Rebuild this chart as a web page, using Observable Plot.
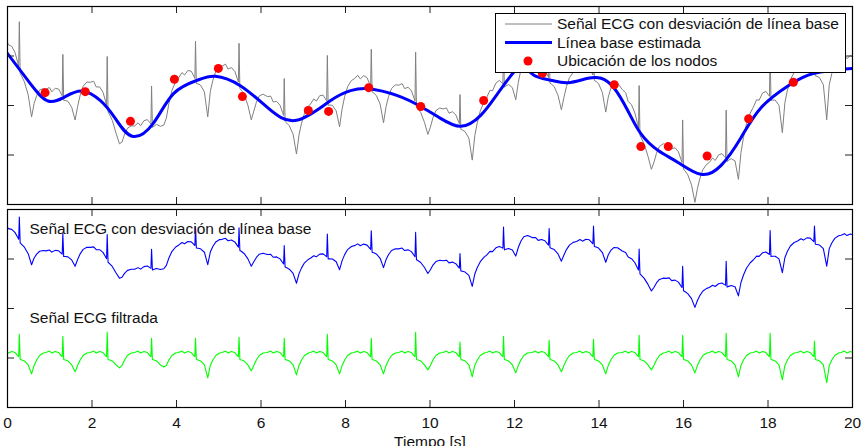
<!DOCTYPE html>
<html>
<head>
<meta charset="utf-8">
<script src="https://cdn.jsdelivr.net/npm/d3@7"></script>
<script src="https://cdn.jsdelivr.net/npm/@observablehq/plot@0.6"></script>
<style>
  body { margin: 0; background: #fff; }
  #chart { position: relative; width: 862px; height: 446px; overflow: hidden;
           font-family: "Liberation Sans", Arial, Helvetica, sans-serif; background: #fff; }
  #chart > svg.panel { position: absolute; left: 0; }
  #chart > svg#legend { position: absolute; left: 495px; top: 13px; }
</style>
</head>
<body>
<div id="chart"></div>
<script>
// ---- Heartbeats: R-peak instants (s), R amplitude and post-R trough amplitude
const rTimes  = [0.28, 1.31, 2.36, 3.41, 4.45, 5.48, 6.55, 7.57, 8.61, 9.66, 10.71, 11.74, 12.82, 13.87, 14.95, 15.98, 17.01, 18.05, 19.10, 20.13];
const rPeaks  = [0.96, 0.88, 1.04, 0.80, 0.80, 0.84, 0.80, 0.96, 0.80, 1.04, 0.64, 0.88, 0.72, 0.76, 0.92, 0.92, 1.00, 1.00, 0.68, 0.90];
const troughs = [-0.64, -0.56, -0.40, -0.36, -0.80, -0.52, -0.68, -0.64, -0.64, -0.48, -0.76, -0.60, -0.56, -0.64, -0.48, -0.60, -0.76, -0.88, -1.00, -0.60];

// Beat waveform: [seconds relative to R, amplitude]; null marks the per-beat trough
const afterR  = [[0.02, -0.06], [0.06, -0.08], [0.12, -0.12], [0.21, -0.28], [0.29, null], [0.35, -0.30], [0.41, -0.08], [0.48, 0.10], [0.57, 0.20]];
const beforeR = [[-0.40, 0.22], [-0.32, 0.28], [-0.26, 0.20], [-0.18, 0.26], [-0.10, 0.22], [-0.04, 0.10], [-0.015, 0.05]];

// ---- Estimated baseline (spline knots)
const baseT = [0, 0.54, 0.96, 1.37, 1.77, 2.20, 2.55, 2.95, 3.45, 3.93, 4.49, 4.92, 5.51, 6.15, 6.84, 7.65, 8.12, 8.55, 9.23, 9.78, 10.25, 10.73, 11.20, 11.60, 11.98, 12.22, 12.46, 12.86, 13.26, 13.74, 14.05, 14.35, 14.68, 14.99, 15.40, 15.87, 16.41, 16.89, 17.36, 17.84, 18.48, 19.09, 20.0];
const baseV = [1.05, 0.44, 0.09, 0.18, 0.29, 0.10, -0.26, -0.62, -0.36, 0.24, 0.51, 0.59, 0.40, -0.04, -0.30, 0.10, 0.30, 0.34, 0.20, -0.02, -0.26, -0.42, -0.20, 0.24, 0.67, 0.80, 0.61, 0.51, 0.46, 0.55, 0.55, 0.36, -0.10, -0.57, -0.91, -1.15, -1.39, -1.21, -0.65, -0.04, 0.40, 0.65, 0.75];

// ---- Node locations used for the baseline fit
const nodeT = [0.89, 1.84, 2.91, 3.95, 4.99, 5.56, 7.12, 7.60, 8.55, 9.78, 11.27, 12.66, 14.36, 14.99, 15.64, 16.56, 17.54, 18.60];
const nodeV = [0.26, 0.28, -0.32, 0.53, 0.75, 0.18, -0.10, -0.12, 0.36, -0.02, 0.10, 0.65, 0.42, -0.83, -0.83, -1.02, -0.27, 0.47];

// ---- Axes
const xTicks = [0, 2, 4, 6, 8, 10, 12, 14, 16, 18, 20];
const yTicksTop = [-1, 0, 1];
const yTicksBottom = [-2, 0, 2];
const ORIG_OFFSET = 2;   // vertical offset of the raw trace in the lower panel
const FILT_OFFSET = -2;  // vertical offset of the filtered trace in the lower panel

// Natural cubic spline through (xs, ys), evaluated at t
function naturalSpline(xs, ys) {
  const n = xs.length, h = [], alpha = [], l = [1], mu = [0], z = [0];
  const b = [], c = new Array(n).fill(0), d = [];
  for (let i = 0; i < n - 1; i++) h[i] = xs[i + 1] - xs[i];
  for (let i = 1; i < n - 1; i++) alpha[i] = 3 / h[i] * (ys[i + 1] - ys[i]) - 3 / h[i - 1] * (ys[i] - ys[i - 1]);
  for (let i = 1; i < n - 1; i++) {
    l[i] = 2 * (xs[i + 1] - xs[i - 1]) - h[i - 1] * mu[i - 1];
    mu[i] = h[i] / l[i];
    z[i] = (alpha[i] - h[i - 1] * z[i - 1]) / l[i];
  }
  for (let j = n - 2; j >= 0; j--) {
    c[j] = z[j] - mu[j] * c[j + 1];
    b[j] = (ys[j + 1] - ys[j]) / h[j] - h[j] * (c[j + 1] + 2 * c[j]) / 3;
    d[j] = (c[j + 1] - c[j]) / (3 * h[j]);
  }
  return t => {
    const j = Math.max(0, Math.min(n - 2, d3.bisectRight(xs, t) - 1));
    const dx = t - xs[j];
    return ys[j] + b[j] * dx + c[j] * dx * dx + d[j] * dx * dx * dx;
  };
}
const baseline = naturalSpline(baseT, baseV);

// Filtered ECG assembled beat by beat
const ecg = [];
rTimes.forEach((r, i) => {
  beforeR.forEach(([dt, a]) => ecg.push({t: r + dt, f: a}));
  ecg.push({t: r, f: rPeaks[i]});
  afterR.forEach(([dt, a]) => ecg.push({t: r + dt, f: a === null ? troughs[i] : a}));
});
// Raw ECG = filtered ECG + baseline wander
ecg.forEach(d => { d.v = d.f + baseline(d.t); });

const knots = baseT.map((t, i) => ({t, v: baseV[i]}));
const nodes = nodeT.map((t, i) => ({t, v: nodeV[i]}));

const W = 862, ML = 7, MR = 10;
const TICK = 7;
const FONT = "15.5px";

function boxTicks(yTicks, panelH) {
  return [
    Plot.tickX(xTicks, {x: d => d, stroke: "#222", insetBottom: panelH - TICK}),
    Plot.tickX(xTicks, {x: d => d, stroke: "#222", insetTop: panelH - TICK}),
    Plot.tickY(yTicks, {y: d => d, stroke: "#222", insetRight: W - ML - MR - TICK}),
    Plot.tickY(yTicks, {y: d => d, stroke: "#222", insetLeft: W - ML - MR - TICK})
  ];
}

// Upper panel: raw ECG with estimated baseline
const topPlot = Plot.plot({
  width: W, height: 206,
  marginLeft: ML, marginRight: MR, marginTop: 6, marginBottom: 2,
  x: {domain: [0, 20], axis: null},
  y: {domain: [-2, 2], axis: null},
  style: {background: "#fff", fontFamily: "Liberation Sans, Arial, sans-serif"},
  marks: [
    Plot.line(ecg, {x: "t", y: "v", stroke: "#808080", strokeWidth: 1, clip: true}),
    Plot.line(knots, {x: "t", y: "v", curve: "natural", stroke: "#0000ff", strokeWidth: 3, clip: true}),
    Plot.dot(nodes, {x: "t", y: "v", r: 4.5, fill: "#ff0000", stroke: "none"}),
    ...boxTicks(yTicksTop, 198),
    Plot.frame({stroke: "#000", strokeWidth: 1.2})
  ]
});
topPlot.classList.add("panel");
topPlot.style.top = "0px";

// Lower panel: raw and filtered ECG
const bottomPlot = Plot.plot({
  width: W, height: 239,
  marginLeft: ML, marginRight: MR, marginTop: 2, marginBottom: 39,
  x: {domain: [0, 20]},
  y: {domain: [-4, 4], axis: null},
  style: {background: "transparent", fontFamily: "Liberation Sans, Arial, sans-serif"},
  marks: [
    Plot.line(ecg, {x: "t", y: d => d.v + ORIG_OFFSET, stroke: "#0000ff", strokeWidth: 1.1, clip: true}),
    Plot.line(ecg, {x: "t", y: d => d.f + FILT_OFFSET, stroke: "#00ff00", strokeWidth: 1.1, clip: true}),
    Plot.text(["Señal ECG con desviación de línea base"], {frameAnchor: "top-left", dx: 22, dy: 20, textAnchor: "start", lineAnchor: "middle", fontSize: FONT, fill: "#111"}),
    Plot.text(["Señal ECG filtrada"], {frameAnchor: "top-left", dx: 22, dy: 109, textAnchor: "start", lineAnchor: "middle", fontSize: FONT, fill: "#111"}),
    ...boxTicks(yTicksBottom, 198),
    Plot.frame({stroke: "#000", strokeWidth: 1.2}),
    Plot.axisX({ticks: xTicks, tickSize: 0, tickPadding: 9, fontSize: FONT, fill: "#111",
                label: "Tiempo [s]", labelAnchor: "center", labelArrow: "none", labelOffset: 39})
  ]
});
bottomPlot.classList.add("panel");
bottomPlot.style.top = "207px";

const chart = document.getElementById("chart");
chart.append(topPlot, bottomPlot);

// Legend box drawn over the upper panel
const legendItems = [
  {label: "Señal ECG con desviación de línea base", kind: "line", color: "#808080", width: 1},
  {label: "Línea base estimada", kind: "line", color: "#0000ff", width: 3},
  {label: "Ubicación de los nodos", kind: "dot", color: "#ff0000"}
];
const lg = d3.create("svg").attr("id", "legend").attr("width", 351).attr("height", 60)
  .style("font-family", "Liberation Sans, Arial, sans-serif");
lg.append("rect").attr("x", 0.5).attr("y", 0.5).attr("width", 350).attr("height", 59)
  .attr("fill", "#fff").attr("stroke", "#000");
legendItems.forEach((d, i) => {
  const y = 11 + i * 18.5;
  if (d.kind === "line") {
    lg.append("line").attr("x1", 10).attr("x2", 57).attr("y1", y).attr("y2", y)
      .attr("stroke", d.color).attr("stroke-width", d.width);
  } else {
    lg.append("circle").attr("cx", 33).attr("cy", y).attr("r", 4.5).attr("fill", d.color);
  }
  lg.append("text").attr("x", 62).attr("y", y).attr("dy", "0.35em")
    .attr("font-size", FONT).attr("fill", "#111").text(d.label);
});
chart.append(lg.node());
</script>
</body>
</html>
